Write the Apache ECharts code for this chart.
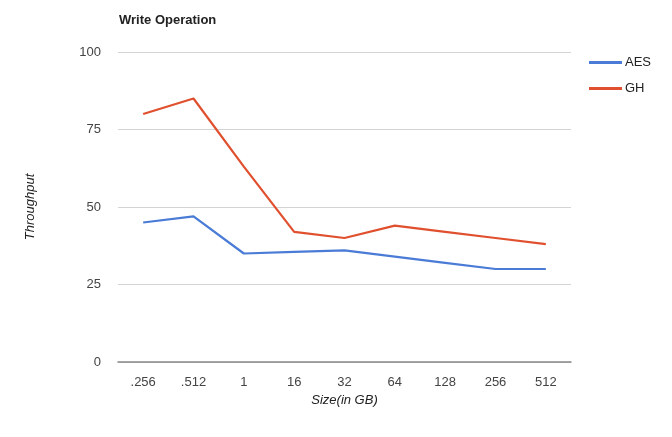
<!DOCTYPE html>
<html>
<head>
<meta charset="utf-8">
<script src="https://cdn.jsdelivr.net/npm/echarts@6/dist/echarts.min.js"></script>
<style>
  html, body { margin: 0; padding: 0; background: #fff; }
  #chart { width: 672px; height: 437px; }
</style>
</head>
<body>
<div id="chart"></div>
<script>
// Dataset sizes (GB) on the category axis
const sizes = ['.256', '.512', '1', '16', '32', '64', '128', '256', '512'];
// Write throughput per scheme
const aesValues = [45, 47, 35, 35.5, 36, 34, 32, 30, 30];
const ghValues = [80, 85, 63, 42, 40, 44, 42, 40, 38];
// Value axis ticks
const yTicks = [0, 25, 50, 75, 100];

const FONT = 'Arial, "Liberation Sans", sans-serif';

const chart = echarts.init(document.getElementById('chart'));
chart.setOption({
  animation: false,
  backgroundColor: '#fff',
  title: {
    text: 'Write Operation',
    left: 114,
    top: 9,
    textStyle: { fontFamily: FONT, fontSize: 13, fontWeight: 'bold', color: '#222' }
  },
  legend: {
    orient: 'vertical',
    left: 584,
    top: 51,
    itemWidth: 33,
    itemHeight: 3,
    itemGap: 13,
    icon: 'rect',
    textStyle: { fontFamily: FONT, fontSize: 13, color: '#222', padding: [0, 0, 0, -2] },
    data: ['AES', 'GH']
  },
  grid: { left: 118, right: 101, top: 52, bottom: 75 },
  xAxis: {
    type: 'category',
    data: sizes,
    boundaryGap: true,
    name: 'Size(in GB)',
    nameLocation: 'middle',
    nameGap: 31,
    nameTextStyle: { fontFamily: FONT, fontSize: 13, fontStyle: 'italic', color: '#222' },
    axisLine: { lineStyle: { color: '#888', width: 1.5 } },
    axisTick: { show: false },
    axisLabel: { fontFamily: FONT, fontSize: 13, color: '#444', margin: 14 }
  },
  yAxis: {
    type: 'value',
    min: yTicks[0],
    max: yTicks[yTicks.length - 1],
    interval: 25,
    name: 'Throughput',
    nameLocation: 'middle',
    nameGap: 81,
    nameTextStyle: { fontFamily: FONT, fontSize: 13, fontStyle: 'italic', color: '#222' },
    axisLine: { show: false },
    axisTick: { show: false },
    axisLabel: { fontFamily: FONT, fontSize: 13, color: '#444', margin: 17 },
    splitLine: { lineStyle: { color: '#d4d4d4', width: 1 } }
  },
  series: [
    {
      name: 'AES',
      type: 'line',
      data: aesValues,
      symbol: 'none',
      color: '#4a7bd6',
      lineStyle: { width: 2.2 }
    },
    {
      name: 'GH',
      type: 'line',
      data: ghValues,
      symbol: 'none',
      color: '#e0502e',
      lineStyle: { width: 2.2 }
    }
  ]
});
</script>
</body>
</html>
